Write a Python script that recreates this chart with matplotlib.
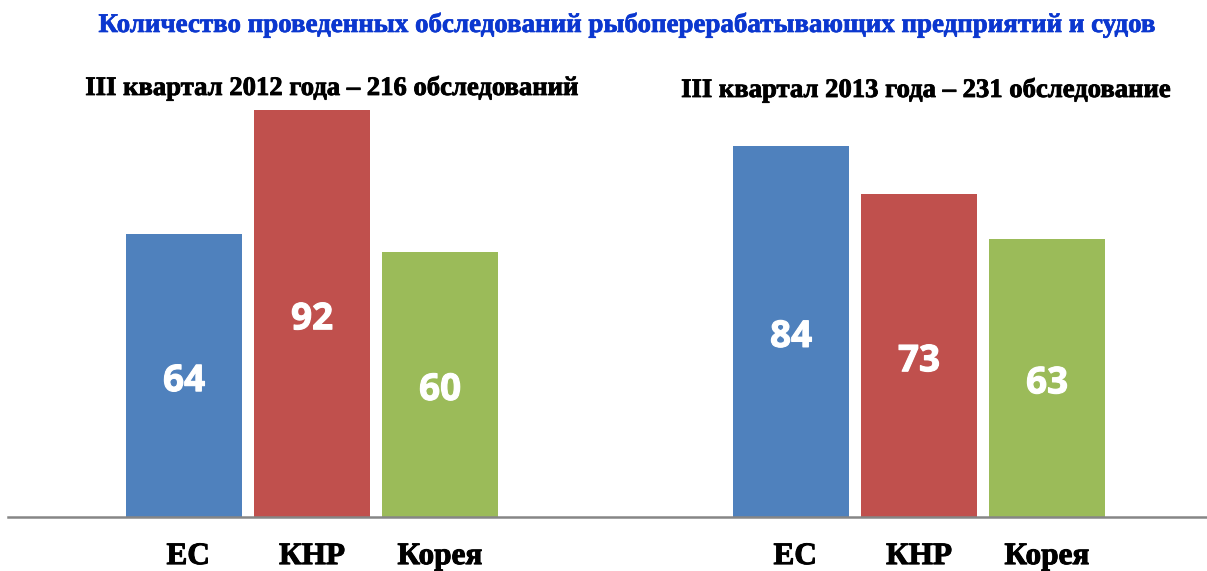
import matplotlib
matplotlib.use("Agg")
import matplotlib.pyplot as plt
from matplotlib.font_manager import FontProperties
import matplotlib.patheffects as pe

# Data
title = "Количество проведенных обследований рыбоперерабатывающих предприятий и судов"
group_titles = ["III квартал 2012 года – 216 обследований",
                "III квартал 2013 года – 231 обследование"]
categories = ["ЕС", "КНР", "Корея"]
values_2012 = [64, 92, 60]
values_2013 = [84, 73, 63]
colors = ["#4F81BD", "#C0504D", "#9BBB59"]

W, H = 1207, 571
fig = plt.figure(figsize=(W / 100, H / 100), dpi=100)
fig.patch.set_facecolor("white")

ax = fig.add_axes([8 / W, (H - 517) / H, (W - 8) / W, 442 / H])
ax.set_xlim(-1.375, (W - 184) / 128)
ax.set_ylim(0, 100)
for s in ["top", "right", "left"]:
    ax.spines[s].set_visible(False)
ax.spines["bottom"].set_color("#868686")
ax.spines["bottom"].set_linewidth(1.8)
ax.set_yticks([])
ax.set_xticks([])
ax.patch.set_alpha(0)

group_offset = (791 - 184) / 128
width = 116 / 128

def serif(size):
    return FontProperties(family="Liberation Serif", weight="bold", size=size)

def thick(color, lw=0.7):
    return [pe.Stroke(linewidth=lw, foreground=color), pe.Normal()]

num_fp = FontProperties(family="Open Sans", weight="bold", size=26.5)

for g, vals in enumerate([values_2012, values_2013]):
    xs = [i + g * group_offset for i in range(len(vals))]
    ax.bar(xs, vals, width=width, color=colors, edgecolor="none", zorder=2)
    for x, v in zip(xs, vals):
        ax.annotate(str(v), xy=(x, v / 2), xytext=(0, -4), textcoords="offset points",
                    ha="center", va="center", color="white",
                    fontproperties=num_fp, zorder=3, path_effects=thick("white", 0.8))
    for x, c in zip(xs, categories):
        ax.annotate(c, xy=(x, 0), xycoords=("data", "axes fraction"),
                    xytext=(3 if c == "ЕС" else 0, -28.5), textcoords="offset points",
                    ha="center", va="center", fontproperties=serif(22.5),
                    color="black", path_effects=thick("black"))

fig.text(626 / W, 1 - 25 / H, title, ha="center", va="center",
         fontproperties=serif(19.4), color="#0B37CF", path_effects=thick("#0B37CF", 0.5))
fig.text(332 / W, 1 - 88 / H, group_titles[0], ha="center", va="center",
         fontproperties=serif(19.2), color="black", path_effects=thick("black", 0.6))
fig.text(926 / W, 1 - 90 / H, group_titles[1], ha="center", va="center",
         fontproperties=serif(19.2), color="black", path_effects=thick("black", 0.6))

fig.savefig("out.png", dpi=100, facecolor="white")
